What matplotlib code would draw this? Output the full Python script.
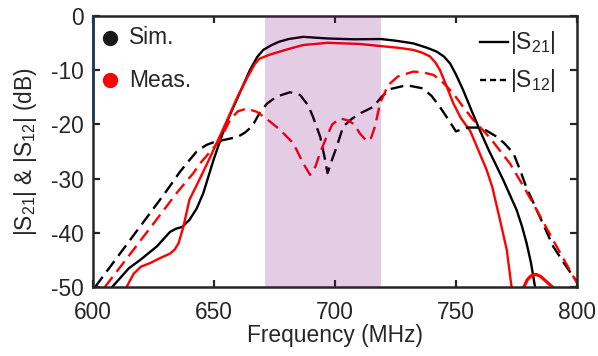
import matplotlib
matplotlib.use('Agg')
import matplotlib.pyplot as plt

plt.rcParams['font.family'] = ['Liberation Sans', 'DejaVu Sans']
plt.rcParams['mathtext.fontset'] = 'custom'
plt.rcParams['mathtext.rm'] = 'Liberation Sans'
plt.rcParams['mathtext.it'] = 'Liberation Sans:italic'
plt.rcParams['axes.unicode_minus'] = False

# Simulated |S21|
sim_s21_f = [608, 615, 619.6, 626.5, 632, 634.5, 637, 640, 643, 645.7, 650, 655, 660, 665, 668,
             670.5, 674, 677, 681, 687, 697, 708, 719, 725, 732.4, 738, 742, 745, 747.6, 750,
             753, 756.5, 760, 763.5, 766.9, 769.6, 772.5, 775.1, 777.3, 779.2, 781, 782.7]
sim_s21_db = [-50, -46.5, -45, -42.5, -39.8, -39.2, -38.9, -37.6, -35.5, -32.7, -26.5, -20, -15, -10, -7.6,
              -6.3, -5.4, -4.8, -4.3, -3.9, -4.2, -4.35, -4.3, -4.6, -5.1, -5.9, -6.6, -7.5, -8.8, -10.8,
              -13.7, -17.5, -21.2, -24.7, -27.8, -30.3, -33.2, -35.8, -38.8, -41.9, -45.5, -50]

# Measured |S21|
meas_s21_f = [614, 617, 620, 624, 628, 632, 634, 635.5, 637.5, 640, 644, 648, 655, 660, 664, 667,
              669, 673, 677.4, 682, 687, 697, 710, 719, 726, 732.4, 736, 739.3, 741.5, 743.4, 746,
              748.9, 752, 756, 759.5, 762.7, 765, 768.2, 771, 773]
meas_s21_db = [-50, -47.5, -46.2, -45.5, -44.6, -43.8, -43, -41.9, -38.9, -33.9, -30.3, -26.6, -19.8, -14.8, -11.3, -8.9,
               -7.9, -7.2, -6.6, -6, -5.4, -5, -5.2, -5.6, -5.9, -6.3, -6.8, -7.5, -8.6, -10, -12.8,
               -16.1, -18.8, -21.3, -25, -28.4, -31.5, -37.6, -43.1, -50]

# Measured |S21| small bump near the bottom right
meas_bump_f = [778, 779.5, 781, 783, 785, 787, 788.5, 790]
meas_bump_db = [-50, -48.6, -47.9, -47.6, -48, -48.8, -49.4, -50]

# Simulated |S12|
sim_s12_f = [601, 610, 620, 630, 636, 640, 643, 647, 650, 655, 660, 663, 666, 669, 672, 676,
             681.5, 685.7, 689, 691, 694, 696, 697, 698.5, 700.8, 703.5, 707, 710.4, 715.9, 719.4,
             723, 729.7, 736.5, 740, 743.4, 747, 750, 752, 755, 759, 762, 766.9, 770, 773.7, 776.5,
             779, 783.4, 790.2, 795, 800]
sim_s12_db = [-50, -44.6, -38.6, -32.6, -28.8, -26.6, -25, -23.8, -23.3, -22.8, -22.3, -21.5, -20.3, -17.9, -16.2, -14.9,
              -14.1, -14.6, -16.5, -18.6, -22.3, -26.5, -29, -27, -24.1, -20.4, -19, -18, -16.8, -14.9,
              -13.5, -12.8, -13.4, -14.8, -16.8, -19.2, -21.3, -21, -20.6, -20.6, -21, -22.3, -23.5, -25.3, -28.4,
              -31.5, -35.8, -42.5, -45.8, -49]

# Measured |S12|
meas_s12_f = [605, 615, 626.5, 635, 641.6, 644.4, 647.1, 652.6, 656.8, 660, 663.7, 667.8, 671.9, 677.4,
              682.9, 687, 689.8, 692, 693.9, 696.7, 699, 702.2, 705.6, 708, 710.4, 713.2, 715, 716.6,
              718.7, 722, 726, 732.4, 736, 740.7, 744, 748.9, 753, 757.2, 764.1, 772.3, 778, 783.4,
              791.6, 800.5]
meas_s12_db = [-50, -44.2, -37.5, -32.5, -29, -27.2, -25.8, -22.9, -19.2, -17.6, -17.1, -17.7, -19, -21,
               -23.5, -27.2, -29.3, -27.8, -25.3, -22.2, -20, -18.9, -19.3, -20, -21.7, -23.1, -22.5, -20.4,
               -16.1, -12.8, -11.2, -10.3, -10.4, -10.9, -12, -14.3, -16.8, -19.2, -22.5, -27.2, -31.5, -35.8,
               -42.5, -49.6]

band = (671, 719)
xticks = [600, 650, 700, 750, 800]
yticks = [0, -10, -20, -30, -40, -50]

fs = 16.4
fig = plt.figure(figsize=(5.98, 3.56), dpi=100)
ax = fig.add_axes([0.1547, 0.193, 0.8102, 0.763])

lw = 1.7
dash = (5.5, 2.8)
ax.plot(sim_s21_f, sim_s21_db, color='black', lw=lw)
ax.plot(meas_s21_f, meas_s21_db, color='red', lw=lw)
ax.plot(meas_bump_f, meas_bump_db, color='red', lw=lw + 0.6)
ax.plot(sim_s12_f, sim_s12_db, color='black', lw=lw, linestyle=(0, dash))
ax.plot(meas_s12_f, meas_s12_db, color='red', lw=lw, linestyle=(0, dash))

# Shaded passband drawn on top of the curves
ax.axvspan(band[0], band[1], color='#800080', alpha=0.2, lw=0, zorder=10)

ax.set_xlim(600, 800)
ax.set_ylim(-50, 0)
ax.set_xticks(xticks)
ax.set_yticks(yticks)
ax.tick_params(direction='in', length=5, width=1.6, top=True, right=True,
               labelsize=fs, colors='#262626')
ax.tick_params(axis='x', pad=10)
ax.tick_params(axis='y', pad=6)
for s in ax.spines.values():
    s.set_linewidth(1.8)
    s.set_color('#262626')
ax.plot([600, 600], [0, -19], color='#1f3864', lw=1.8, clip_on=False, zorder=4)

ax.set_xlabel('Frequency (MHz)', fontsize=fs, color='#262626', labelpad=0)
ax.set_ylabel('|S$_{21}$| & |S$_{12}$| (dB)', fontsize=fs, color='#262626', labelpad=9)

# Left legend: markers
ax.plot([0.036], [0.918], 'o', color='#1a1a1a', ms=10, transform=ax.transAxes)
ax.text(0.075, 0.918, 'Sim.', transform=ax.transAxes, fontsize=fs, va='center', color='#262626')
ax.plot([0.036], [0.763], 'o', color='red', ms=10, transform=ax.transAxes)
ax.text(0.075, 0.763, 'Meas.', transform=ax.transAxes, fontsize=fs, va='center', color='#262626')

# Right legend: line styles
ax.plot([0.80, 0.857], [0.903, 0.903], color='black', lw=lw, transform=ax.transAxes)
ax.text(0.862, 0.903, '|S$_{21}$|', transform=ax.transAxes, fontsize=fs, va='center', color='#262626')
ax.plot([0.80, 0.857], [0.763, 0.763], color='black', lw=lw, linestyle=(0, (2.6, 1.6)),
        transform=ax.transAxes)
ax.text(0.862, 0.763, '|S$_{12}$|', transform=ax.transAxes, fontsize=fs, va='center', color='#262626')

plt.savefig('out.png', dpi=100)
